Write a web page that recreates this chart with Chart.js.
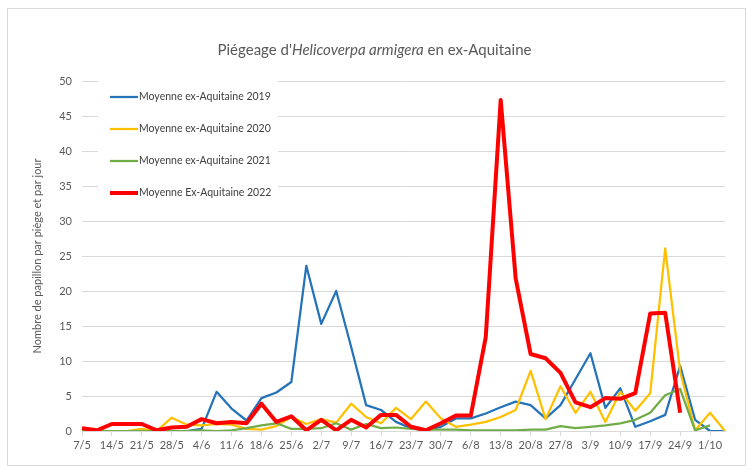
<!DOCTYPE html>
<html>
<head>
<meta charset="utf-8">
<script src="https://cdn.jsdelivr.net/npm/chart.js@4.4.1/dist/chart.umd.min.js"></script>
<style>
html,body{margin:0;padding:0;background:#fff;}
#wrap{position:relative;width:747px;height:466px;}
</style>
</head>
<body>
<div id="wrap"><canvas id="c" width="747" height="466"></canvas></div>
<script>
// Half-weekly sampling dates (labels shown weekly)
const dates = ['7/5','10/5','14/5','17/5','21/5','24/5','28/5','31/5',
  '4/6','7/6','11/6','14/6','18/6','21/6','25/6','28/6',
  '2/7','5/7','9/7','12/7','16/7','19/7','23/7','26/7','30/7',
  '2/8','6/8','9/8','13/8','16/8','20/8','23/8','27/8','30/8',
  '3/9','6/9','10/9','13/9','17/9','20/9','24/9','27/9',
  '1/10','4/10'];

const seriesNames = ['Moyenne ex-Aquitaine 2019','Moyenne ex-Aquitaine 2020','Moyenne ex-Aquitaine 2021','Moyenne Ex-Aquitaine 2022'];

const moy2019 = [0,0,0,0,0,0,0,0,0.3,5.6,3.2,1.5,4.7,5.5,7.0,23.6,15.3,20.0,12.0,3.7,3.0,1.3,0.4,0.1,0.6,1.8,1.8,2.5,3.4,4.2,3.7,1.8,3.7,7.4,11.1,3.3,6.1,0.6,1.4,2.3,9.3,1.6,0,0];
const moy2020 = [0,0,0,0,0.3,0,1.9,0.9,0.8,1.0,0.9,0.3,0.2,0.7,2.0,1.0,1.7,1.2,3.9,2.0,1.1,3.3,1.7,4.2,1.8,0.6,0.9,1.3,2.0,3.0,8.6,1.7,6.4,2.6,5.6,1.3,5.6,2.9,5.4,26.1,8.5,0.1,2.6,0];
const moy2021 = [0,0,0,0,0,0,0,0,0.1,0,0.1,0.4,0.8,1.1,0.3,0.3,0.4,1.1,0.2,1.0,0.4,0.5,0.3,0.2,0.2,0.2,0.1,0.1,0.1,0.1,0.2,0.2,0.7,0.4,0.6,0.8,1.1,1.6,2.6,5.1,6.0,0.1,0.8,null];
const moy2022 = [0.4,0.1,1.0,1.0,1.0,0.1,0.5,0.6,1.7,1.1,1.3,1.1,3.9,1.3,2.1,0.1,1.6,0.1,1.6,0.5,2.3,2.3,0.6,0.1,1.1,2.2,2.2,13.4,47.3,21.8,11.0,10.4,8.3,4.1,3.4,4.7,4.6,5.4,16.8,16.9,2.6,null,null,null];

const yTicksMax = 50, yStep = 5;
const FONT = 'Lato, "Liberation Sans", sans-serif';
const GRID = '#d9d9d9';
const TXT = '#595959';

const titlePlugin = {
  id: 'richTitle',
  beforeDraw(chart) {
    const ctx = chart.ctx;
    ctx.save();
    ctx.strokeStyle = GRID;
    ctx.lineWidth = 1;
    ctx.strokeRect(7.5, 8.5, chart.width - 9, chart.height - 9);
    ctx.restore();
  },
  afterDraw(chart) {
    const ctx = chart.ctx;
    const parts = [["Piégeage d'", 'normal'], ['Helicoverpa armigera', 'italic'], [' en ex-Aquitaine', 'normal']];
    ctx.save();
    ctx.fillStyle = TXT;
    ctx.textBaseline = 'middle';
    ctx.textAlign = 'left';
    let total = 0;
    parts.forEach(p => { ctx.font = p[1] + ' 15px ' + FONT; total += ctx.measureText(p[0]).width; });
    let x = chart.width / 2 + 1 - total / 2;
    const y = 50;
    parts.forEach(p => { ctx.font = p[1] + ' 15px ' + FONT; ctx.fillText(p[0], x, y); x += ctx.measureText(p[0]).width; });
    ctx.restore();
  }
};

const legendPlugin = {
  id: 'inlineLegend',
  afterDatasetsDraw(chart) {
    const ctx = chart.ctx;
    const a = chart.chartArea;
    ctx.save();
    ctx.fillStyle = '#fff';
    ctx.fillRect(a.left + 16, a.top - 6, 180, 130);
    ctx.font = '10.5px ' + FONT;
    ctx.textBaseline = 'middle';
    ctx.textAlign = 'left';
    chart.data.datasets.forEach((ds, i) => {
      const y = a.top + 16 + i * 32;
      ctx.strokeStyle = ds.borderColor;
      ctx.lineWidth = ds.borderWidth;
      ctx.beginPath();
      ctx.moveTo(a.left + 28, y);
      ctx.lineTo(a.left + 56, y);
      ctx.stroke();
      ctx.fillStyle = '#404040';
      ctx.fillText(ds.label, a.left + 57, y);
    });
    ctx.restore();
  }
};

const mk = (label, data, color, width, order) => ({
  label, data, borderColor: color, backgroundColor: color, borderWidth: width,
  pointRadius: 0, pointHoverRadius: 0, tension: 0, fill: false, order,
  borderJoinStyle: 'round', borderCapStyle: 'butt', spanGaps: false
});

new Chart(document.getElementById('c'), {
  type: 'line',
  data: {
    labels: dates,
    datasets: [
      mk(seriesNames[0], moy2019, '#2573B8', 2.25, 3),
      mk(seriesNames[1], moy2020, '#FFC000', 2.25, 2),
      mk(seriesNames[2], moy2021, '#70AD47', 2.25, 1),
      mk(seriesNames[3], moy2022, '#FF0000', 4, 0)
    ]
  },
  options: {
    responsive: false,
    animation: false,
    layout: { padding: { left: 20, right: 22, top: 81, bottom: 0 } },
    plugins: {
      legend: { display: false },
      title: { display: false },
      tooltip: { enabled: false }
    },
    scales: {
      x: {
        type: 'category',
        offset: false,
        afterFit(s) { s.height = 35; },
        grid: {
          display: true, drawOnChartArea: false, drawTicks: true, tickLength: 5,
          tickColor: c => (c.index % 2 === 0 ? GRID : 'rgba(0,0,0,0)')
        },
        border: { display: true, color: GRID },
        ticks: {
          autoSkip: false, maxRotation: 0, minRotation: 0, padding: 3,
          color: TXT, font: { family: FONT, size: 11 },
          callback: function (v, i) { return i % 2 === 0 ? this.getLabelForValue(v) : ''; }
        }
      },
      y: {
        min: 0, max: yTicksMax,
        afterFit(s) { s.width = 62; },
        grid: { color: GRID, drawTicks: false, lineWidth: 1 },
        border: { display: false },
        ticks: { stepSize: yStep, padding: 10, color: TXT, font: { family: FONT, size: 11 } },
        title: {
          display: true, text: 'Nombre de papillon par piège et par jour',
          color: TXT, font: { family: FONT, size: 11 }, padding: { top: 11, bottom: 0 }
        }
      }
    }
  },
  plugins: [titlePlugin, legendPlugin]
});
</script>
</body>
</html>
